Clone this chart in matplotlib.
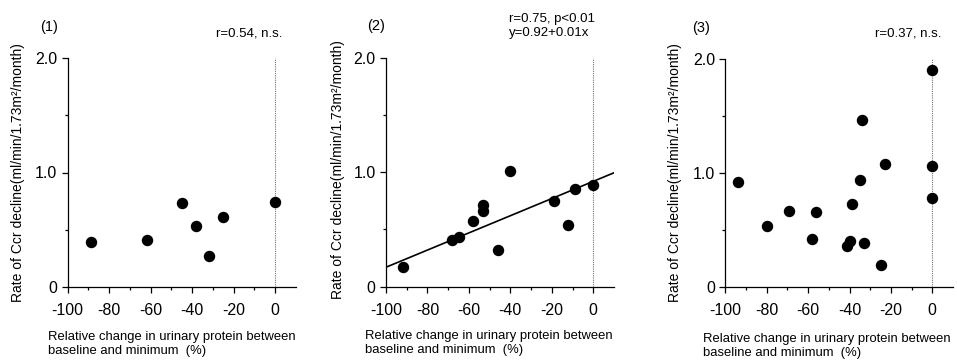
import numpy as np
import matplotlib
matplotlib.use('Agg')
import matplotlib.pyplot as plt

plt.rcParams['font.family'] = ['Liberation Sans', 'DejaVu Sans']
plt.rcParams['axes.unicode_minus'] = False

# panel data (x: % change, y: rate of Ccr decline)
x1 = [-89, -62, -45, -38, -32, -25, 0]
y1 = [0.39, 0.41, 0.73, 0.53, 0.27, 0.61, 0.74]

x2 = [-92, -68, -65, -58, -53, -53, -46, -40, -19, -12, -9, 0]
y2 = [0.17, 0.41, 0.43, 0.57, 0.71, 0.66, 0.32, 1.01, 0.75, 0.54, 0.85, 0.89]

x3 = [-94, -80, -69, -58, -56, -39, -41, -40, -35, -34, -33, -25, -23, 0, 0, 0]
y3 = [0.92, 0.54, 0.67, 0.42, 0.66, 0.73, 0.36, 0.41, 0.94, 1.47, 0.39, 0.20, 1.08, 1.91, 1.06, 0.78]

# regression line in panel 2
reg_a, reg_b = 0.92, 0.0075

panel_tags = ['(1)', '(2)', '(3)']
stats = ['r=0.54, n.s.', 'r=0.75, p<0.01\ny=0.92+0.01x', 'r=0.37, n.s.']
xticks = [-100, -80, -60, -40, -20, 0]
yticks = [0, 1.0, 2.0]
ytick_labels = ['0', '1.0', '2.0']
ylabel = 'Rate of Ccr decline(ml/min/1.73m\u00b2/month)'
xlabel = 'Relative change in urinary protein between\nbaseline and minimum  (%)'

W, H = 957, 363
fig = plt.figure(figsize=(W / 100, H / 100), dpi=100)


def px(x, y):
    return x / W, 1 - y / H


# axes boxes in pixels: left, top, right, bottom
boxes = [(67.7, 58.3, 296, 286.7), (386, 57.7, 614, 286.7), (725.3, 59.3, 953, 287.3)]
tag_pos = [(40, 27), (367, 26), (692, 28)]
stat_pos = [(282, 33), (603, 26), (941, 33)]
ylab_pos = [(18, 173), (338, 170), (675, 173)]
xlab_pos = [(48, 344), (365, 343), (703, 346)]

data = [(x1, y1), (x2, y2), (x3, y3)]

for i, (xs, ys) in enumerate(data):
    l, t, r, b = boxes[i]
    ax = fig.add_axes([l / W, 1 - b / H, (r - l) / W, (b - t) / H])
    ax.set_xlim(-100, 10)
    ax.set_ylim(0, 2.0)
    for s in ['top', 'right']:
        ax.spines[s].set_visible(False)
    for s in ['left', 'bottom']:
        ax.spines[s].set_linewidth(0.9)

    ax.axvline(0, color='0.45', lw=0.8, ls=(0, (1, 1)), zorder=1)
    ax.scatter(xs, ys, s=52, color='black', zorder=3, clip_on=False)

    if i == 1:
        lx = np.array([-100, 10])
        ax.plot(lx, reg_a + reg_b * lx, color='black', lw=1.2, zorder=2)

    ax.set_xticks(xticks)
    ax.set_xticklabels([str(v) for v in xticks])
    ax.set_xticks([-90, -70, -50, -30, -10], minor=True)
    ax.set_yticks(yticks)
    ax.set_yticklabels(ytick_labels)
    ax.set_yticks([0.5, 1.5], minor=True)
    ax.tick_params(which='major', direction='out', length=4.5, width=0.9, labelsize=11.5)
    ax.tick_params(axis='x', which='major', pad=7)
    ax.tick_params(axis='y', which='major', pad=3)
    ax.tick_params(which='minor', direction='out', length=2.2, width=0.9)

    fig.text(*px(*tag_pos[i]), panel_tags[i], fontsize=10.5, ha='left', va='center')
    if i == 1:
        fig.text(*px(509, 26), stats[i], fontsize=9.5, ha='left', va='center', linespacing=1.2)
    else:
        fig.text(*px(*stat_pos[i]), stats[i], fontsize=9.5, ha='right', va='center')
    fig.text(*px(*ylab_pos[i]), ylabel, fontsize=10, rotation=90, ha='center', va='center')
    fig.text(*px(*xlab_pos[i]), xlabel, fontsize=9.4, ha='left', va='center', linespacing=1.3)

fig.savefig('out.png', dpi=100)
